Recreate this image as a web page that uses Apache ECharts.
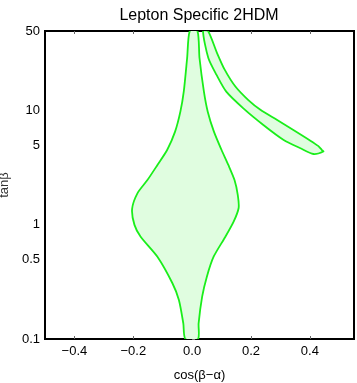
<!DOCTYPE html>
<html>
<head>
<meta charset="utf-8">
<script src="https://cdn.jsdelivr.net/npm/echarts@6/dist/echarts.min.js"></script>
<style>
  html, body { margin: 0; padding: 0; background: #fff; }
  #chart { width: 357px; height: 383px; }
</style>
</head>
<body>
<div id="chart"></div>
<script>
// allowed region 1: the central blob, [cos(beta-alpha), tan beta], traced round the outline
var centralRegion = [
  [-0.008, 50], [-0.017, 29.0], [-0.0285, 14.7], [-0.040, 9.82], [-0.058, 6.56],
  [-0.085, 4.53], [-0.118, 3.35], [-0.152, 2.47], [-0.186, 1.89], [-0.204, 1.38],
  [-0.196, 1.0], [-0.175, 0.788], [-0.118, 0.526], [-0.067, 0.308], [-0.045, 0.220],
  [-0.030, 0.137], [-0.023, 0.1],
  [0.020, 0.1], [0.022, 0.137], [0.034, 0.235], [0.050, 0.352], [0.073, 0.526],
  [0.113, 0.788], [0.141, 1.067], [0.158, 1.406], [0.155, 1.83], [0.144, 2.47],
  [0.123, 3.35], [0.100, 4.53], [0.074, 6.56], [0.053, 9.82], [0.040, 14.7],
  [0.025, 29.0], [0.018, 50]
];

// allowed region 2: the thin band on the right, outer edge then inner edge
var wrongSignRegion = [
  [0.054, 50], [0.085, 31.9], [0.111, 22.8], [0.147, 16.3], [0.191, 12.4],
  [0.232, 10.2], [0.289, 8.30], [0.344, 6.79], [0.398, 5.55], [0.428, 4.92],
  [0.441, 4.53], [0.446, 4.40],
  [0.412, 4.18], [0.368, 4.69], [0.311, 5.55], [0.242, 7.51], [0.174, 10.5],
  [0.116, 14.7], [0.083, 20.6], [0.055, 29.0], [0.037, 50]
];

var xTicks = [-0.4, -0.2, 0, 0.2, 0.4];
var yLabels = [0.1, 0.5, 1, 5, 10, 50];
var yTicks = [0.1, 0.2, 0.3, 0.5, 1, 2, 3, 5, 10, 20, 30, 50];

var lineColor = '#1aee1a';
var fillColor = '#e0fde0';
var font = 'Liberation Sans, Arial, sans-serif';

function polygonSeries(name, points) {
  return {
    name: name,
    type: 'custom',
    coordinateSystem: 'cartesian2d',
    clip: true,
    data: [[0, 1]],
    renderItem: function (params, api) {
      var pts = points.map(function (p) { return api.coord(p); });
      return {
        type: 'polygon',
        shape: { points: pts, smooth: 0.25 },
        style: { fill: fillColor, stroke: lineColor, lineWidth: 1.8 }
      };
    }
  };
}

function fmtX(v) {
  var s = Math.abs(v).toFixed(1);
  return v < 0 ? '\u2212' + s : s;
}

var myChart = echarts.init(document.getElementById('chart'));

var option = {
  animation: false,
  title: {
    text: 'Lepton Specific 2HDM',
    left: 194,
    textAlign: 'center',
    top: 3,
    textStyle: { fontFamily: font, fontSize: 16, fontWeight: 'normal', color: '#000' }
  },
  grid: {
    left: 45, right: 3, top: 31, bottom: 44,
    outerBoundsMode: 'none',
    containLabel: false,
    show: true, borderColor: '#000', borderWidth: 2, backgroundColor: 'transparent'
  },
  xAxis: [{
    type: 'value',
    min: -0.5,
    max: 0.55,
    name: 'cos(\u03b2\u2212\u03b1)',
    nameLocation: 'middle',
    nameGap: 30,
    nameTextStyle: { fontFamily: font, fontSize: 13, color: '#000' },
    axisLine: { show: false },
    splitLine: { show: false },
    axisTick: { inside: true, length: 3, customValues: xTicks, lineStyle: { color: '#666' } },
    axisLabel: {
      customValues: xTicks, margin: 6, formatter: fmtX,
      fontFamily: font, fontSize: 13, color: '#000'
    }
  }, {
    type: 'value',
    position: 'top',
    min: -0.5,
    max: 0.55,
    axisLine: { show: false },
    splitLine: { show: false },
    axisTick: { inside: true, length: 3, customValues: xTicks, lineStyle: { color: '#666' } },
    axisLabel: { show: false }
  }],
  yAxis: [{
    type: 'log',
    logBase: 10,
    min: 0.1,
    max: 50,
    name: 'tan\u03b2',
    nameLocation: 'middle',
    nameGap: 26,
    nameTextStyle: { fontFamily: font, fontSize: 13, color: '#333' },
    axisLine: { show: false },
    splitLine: { show: false },
    minorTick: { show: false },
    axisTick: { inside: true, length: 3, customValues: yTicks, lineStyle: { color: '#777' } },
    axisLabel: {
      customValues: yLabels, margin: 5,
      fontFamily: font, fontSize: 13, color: '#000'
    }
  }],
  series: [
    polygonSeries('central', centralRegion),
    polygonSeries('wrong sign', wrongSignRegion)
  ]
};

myChart.setOption(option);
</script>
</body>
</html>
